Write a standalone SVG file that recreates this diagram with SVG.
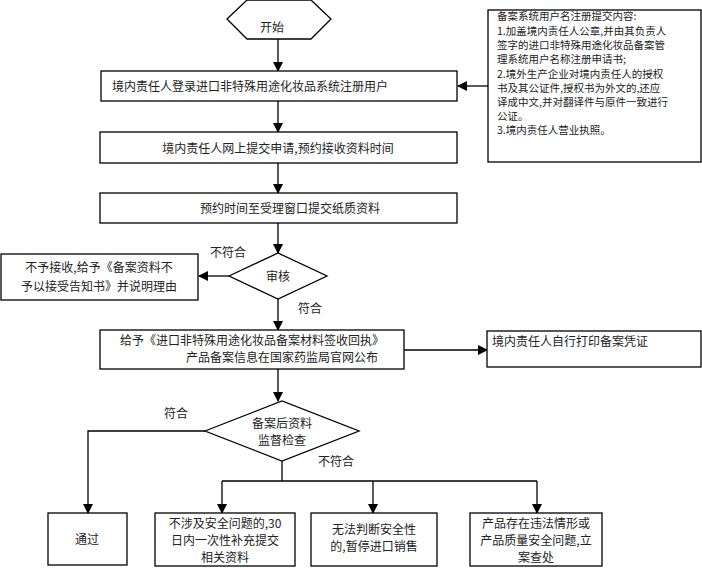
<svg xmlns="http://www.w3.org/2000/svg" width="702" height="568" viewBox="0 0 702 568">
<style>
.b{fill:#fff;stroke:#000;stroke-width:1.3}
.l{fill:none;stroke:#000;stroke-width:1.3}
text{font-family:"Noto Sans CJK SC","Liberation Sans",sans-serif;font-size:12px;fill:#222}
.s{font-size:10.5px}
.c{text-anchor:middle}
</style>
<defs><marker id="a" markerWidth="10" markerHeight="10" refX="9" refY="5" orient="auto" markerUnits="userSpaceOnUse"><path d="M0,0L10,5L0,10z" fill="#000"/></marker></defs>
<rect width="702" height="568" fill="#fff"/>
<g id="connectors">
<path class="l" d="M278,39V71" marker-end="url(#a)"/>
<path class="l" d="M278,101V132" marker-end="url(#a)"/>
<path class="l" d="M278,163V193" marker-end="url(#a)"/>
<path class="l" d="M278,223V253" marker-end="url(#a)"/>
<path class="l" d="M488,86H458" marker-end="url(#a)"/>
<path class="l" d="M229,276H199" marker-end="url(#a)"/>
<path class="l" d="M278,299V330" marker-end="url(#a)"/>
<path class="l" d="M404,350H487" marker-end="url(#a)"/>
<path class="l" d="M278,369V401" marker-end="url(#a)"/>
<path class="l" d="M205,431H88V513" marker-end="url(#a)"/>
<path class="l" d="M282,461V481M222,481H537"/>
<path class="l" d="M222,481V513" marker-end="url(#a)"/>
<path class="l" d="M373,481V513" marker-end="url(#a)"/>
<path class="l" d="M537,481V513" marker-end="url(#a)"/>
<text x="228" y="257" class="c">不符合</text>
<text x="310" y="313" class="c">符合</text>
<text x="176" y="418" class="c">符合</text>
<text x="336" y="466" class="c">不符合</text>
</g>
<g id="start"><path class="b" d="M227,19L247,0H311L331,19L311,39H247Z"/><text x="272" y="32" class="c">开始</text></g>
<g id="n1"><rect class="b" x="101" y="71" width="356" height="30"/><text x="112" y="91">境内责任人登录进口非特殊用途化妆品系统注册用户</text></g>
<g id="n2"><rect class="b" x="100" y="132" width="357" height="31"/><text x="278" y="153" class="c">境内责任人网上提交申请,预约接收资料时间</text></g>
<g id="n3"><rect class="b" x="100" y="193" width="357" height="30"/><text x="290" y="213" class="c">预约时间至受理窗口提交纸质资料</text></g>
<g id="note"><rect class="b" x="488" y="10" width="213" height="152"/>
<text class="s" x="497" y="20">备案系统用户名注册提交内容:</text>
<text class="s" x="497" y="35">1.加盖境内责任人公章,并由其负责人</text>
<text class="s" x="497" y="49">签字的进口非特殊用途化妆品备案管</text>
<text class="s" x="497" y="63">理系统用户名称注册申请书;</text>
<text class="s" x="497" y="78">2.境外生产企业对境内责任人的授权</text>
<text class="s" x="497" y="92">书及其公证件,授权书为外文的,还应</text>
<text class="s" x="497" y="106">译成中文,并对翻译件与原件一致进行</text>
<text class="s" x="497" y="120">公证。</text>
<text class="s" x="497" y="134">3.境内责任人营业执照。</text></g>
<g id="review"><path class="b" d="M229,276L278,253L327,276L278,299Z"/><text x="278" y="281" class="c">审核</text></g>
<g id="reject"><rect class="b" x="1" y="254" width="197" height="46"/><text x="99" y="272" class="c">不予接收,给予《备案资料不</text><text x="99" y="291" class="c">予以接受告知书》并说明理由</text></g>
<g id="n4"><rect class="b" x="100" y="330" width="304" height="39"/><text x="252" y="345" class="c">给予《进口非特殊用途化妆品备案材料签收回执》</text><text x="282" y="362" class="c">产品备案信息在国家药监局官网公布</text></g>
<g id="print"><rect class="b" x="487" y="331" width="214" height="36"/><text x="492" y="346">境内责任人自行打印备案凭证</text></g>
<g id="check"><path class="b" d="M205,431L282,401L359,431L282,461Z"/><text x="282" y="428" class="c">备案后资料</text><text x="282" y="445" class="c">监督检查</text></g>
<g id="pass"><rect class="b" x="48" y="513" width="79" height="52"/><text x="87" y="544" class="c">通过</text></g>
<g id="r1"><rect class="b" x="155" y="513" width="140" height="53"/><text x="225" y="528" class="c">不涉及安全问题的,30</text><text x="225" y="545" class="c">日内一次性补充提交</text><text x="225" y="562" class="c">相关资料</text></g>
<g id="r2"><rect class="b" x="311" y="513" width="126" height="53"/><text x="374" y="534" class="c">无法判断安全性</text><text x="374" y="551" class="c">的,暂停进口销售</text></g>
<g id="r3"><rect class="b" x="470" y="513" width="132" height="53"/><text x="536" y="528" class="c">产品存在违法情形或</text><text x="536" y="545" class="c">产品质量安全问题,立</text><text x="536" y="562" class="c">案查处</text></g>
</svg>
